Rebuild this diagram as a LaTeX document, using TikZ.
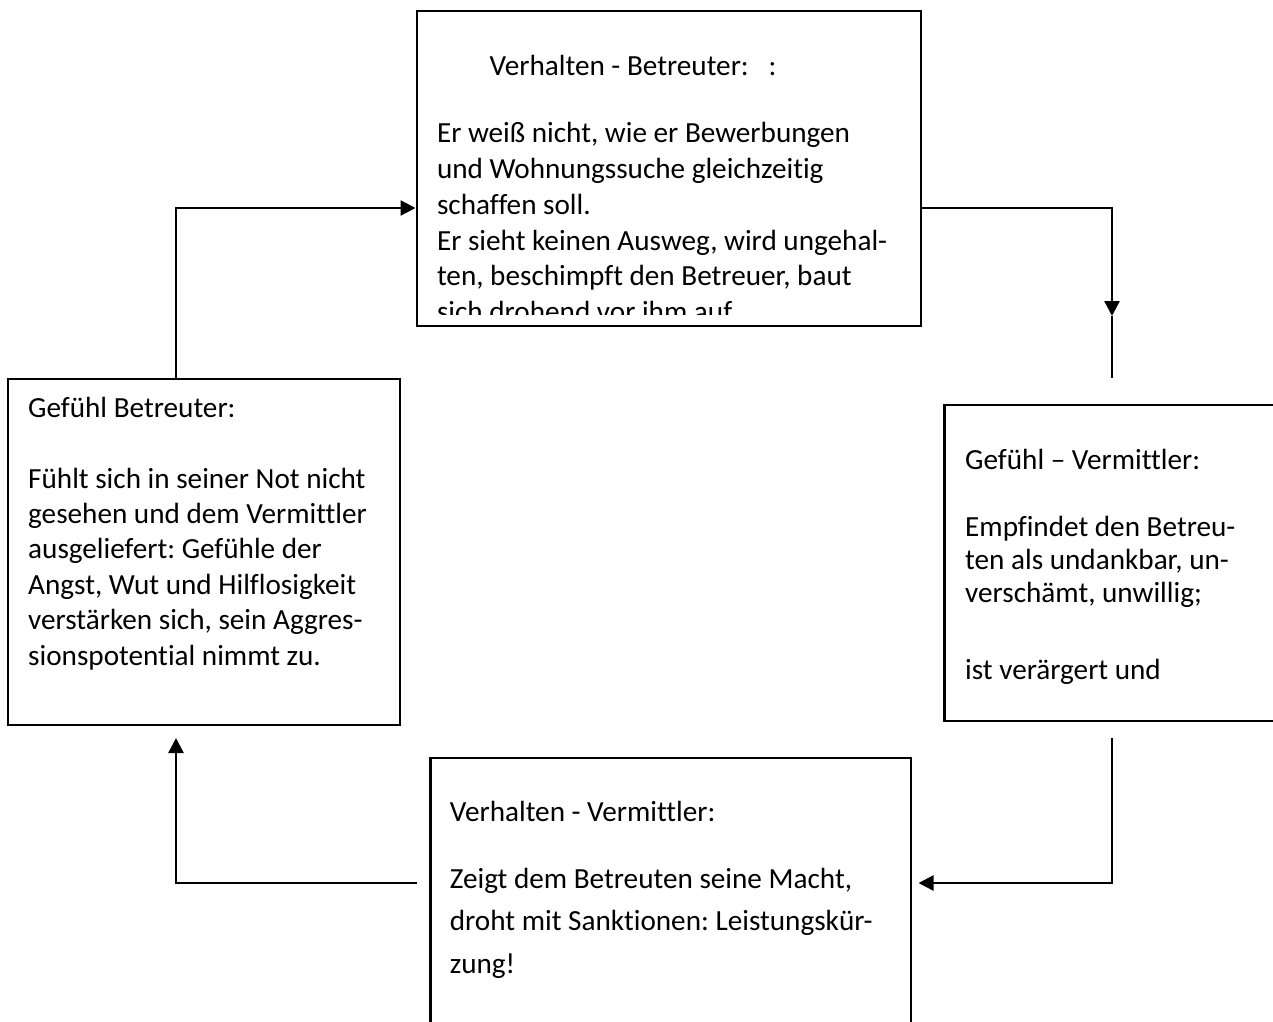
\documentclass[tikz,border=0pt]{standalone}
\usepackage{fontspec}
\setmainfont[Ligatures=NoCommon]{Carlito}
\frenchspacing
\usetikzlibrary{arrows.meta}
\begin{document}
\begin{tikzpicture}[x=1pt,y=-1pt,
  box/.style={draw, line width=2.4pt, rectangle, anchor=north west, inner sep=0pt},
  txt/.style={anchor=base west, inner sep=0pt, font=\fontsize{29.2}{#1}\selectfont},
  conn/.style={line width=2.4pt},
  arr/.style={conn, -{Triangle[length=15pt,width=15pt]}}]
\useasboundingbox (0,0) rectangle (1273,1021);
\clip (0,0) rectangle (1273,1021);
% boxes
\node[box, minimum width=504.5pt, minimum height=315pt] (tb) at (415.5,10) {};
\node[box, minimum width=392pt, minimum height=345.6pt] (lb) at (7,378) {};
\node[box, minimum width=360pt, minimum height=316pt] (rb) at (943.3,404) {};
\node[box, minimum width=480.7pt, minimum height=320pt] (bb) at (429.3,756.7) {};
% top box text
\node[txt=35.8] (tbh) at (489.5,75) {Verhalten - Betreuter:\ \ \ :};
\begin{scope}
\clip (416,10) rectangle (920,314);
\node[txt=35.8] (tbb) at (436.8,142.7) {\begin{tabular}[t]{@{}l@{}}Er weiß nicht, wie er Bewerbungen\\und Wohnungssuche gleichzeitig\\schaffen soll.\\Er sieht keinen Ausweg, wird ungehal-\\ten, beschimpft den Betreuer, baut\\sich drohend vor ihm auf.\end{tabular}};
\end{scope}
% left box text
\node[txt=35.4] (lbh) at (28,417.5) {Gefühl Betreuter:};
\node[txt=35.4] (lbb) at (28,488) {\begin{tabular}[t]{@{}l@{}}Fühlt sich in seiner Not nicht\\gesehen und dem Vermittler\\ausgeliefert: Gefühle der\\Angst, Wut und Hilflosigkeit\\verstärken sich, sein Aggres-\\sionspotential nimmt zu.\end{tabular}};
% right box text
\node[txt=33.2] (rbh) at (965,469) {Gefühl – Vermittler:};
\node[txt=33.2] (rbb) at (965,536.5) {\begin{tabular}[t]{@{}l@{}}Empfindet den Betreu-\\ten als undankbar, un-\\verschämt, unwillig;\end{tabular}};
\node[txt=33.2] (rbc) at (965,679.5) {ist verärgert und};
% bottom box text
\node[txt=42.5] (bbh) at (449.7,821.7) {Verhalten - Vermittler:};
\node[txt=42.5] (bbb) at (449.7,888) {\begin{tabular}[t]{@{}l@{}}Zeigt dem Betreuten seine Macht,\\droht mit Sanktionen: Leistungskür-\\zung!\end{tabular}};
% connector points
\coordinate (p1) at (176,378);
\coordinate (p2) at (415.5,208);
\coordinate (p3) at (920,208);
\coordinate (p4) at (1112,316);
\coordinate (p5) at (1112,378);
\coordinate (p6) at (1112,738);
\coordinate (p7) at (918.5,883);
\coordinate (p8) at (416.6,883);
\coordinate (p9) at (176,738);
% connectors
\draw[arr] (p1) |- (p2);
\draw[arr] (p3) -| (p4);
\draw[conn] (p4) -- (p5);
\draw[arr] (p6) |- (p7);
\draw[arr] (p8) -| (p9);
\end{tikzpicture}
\end{document}
